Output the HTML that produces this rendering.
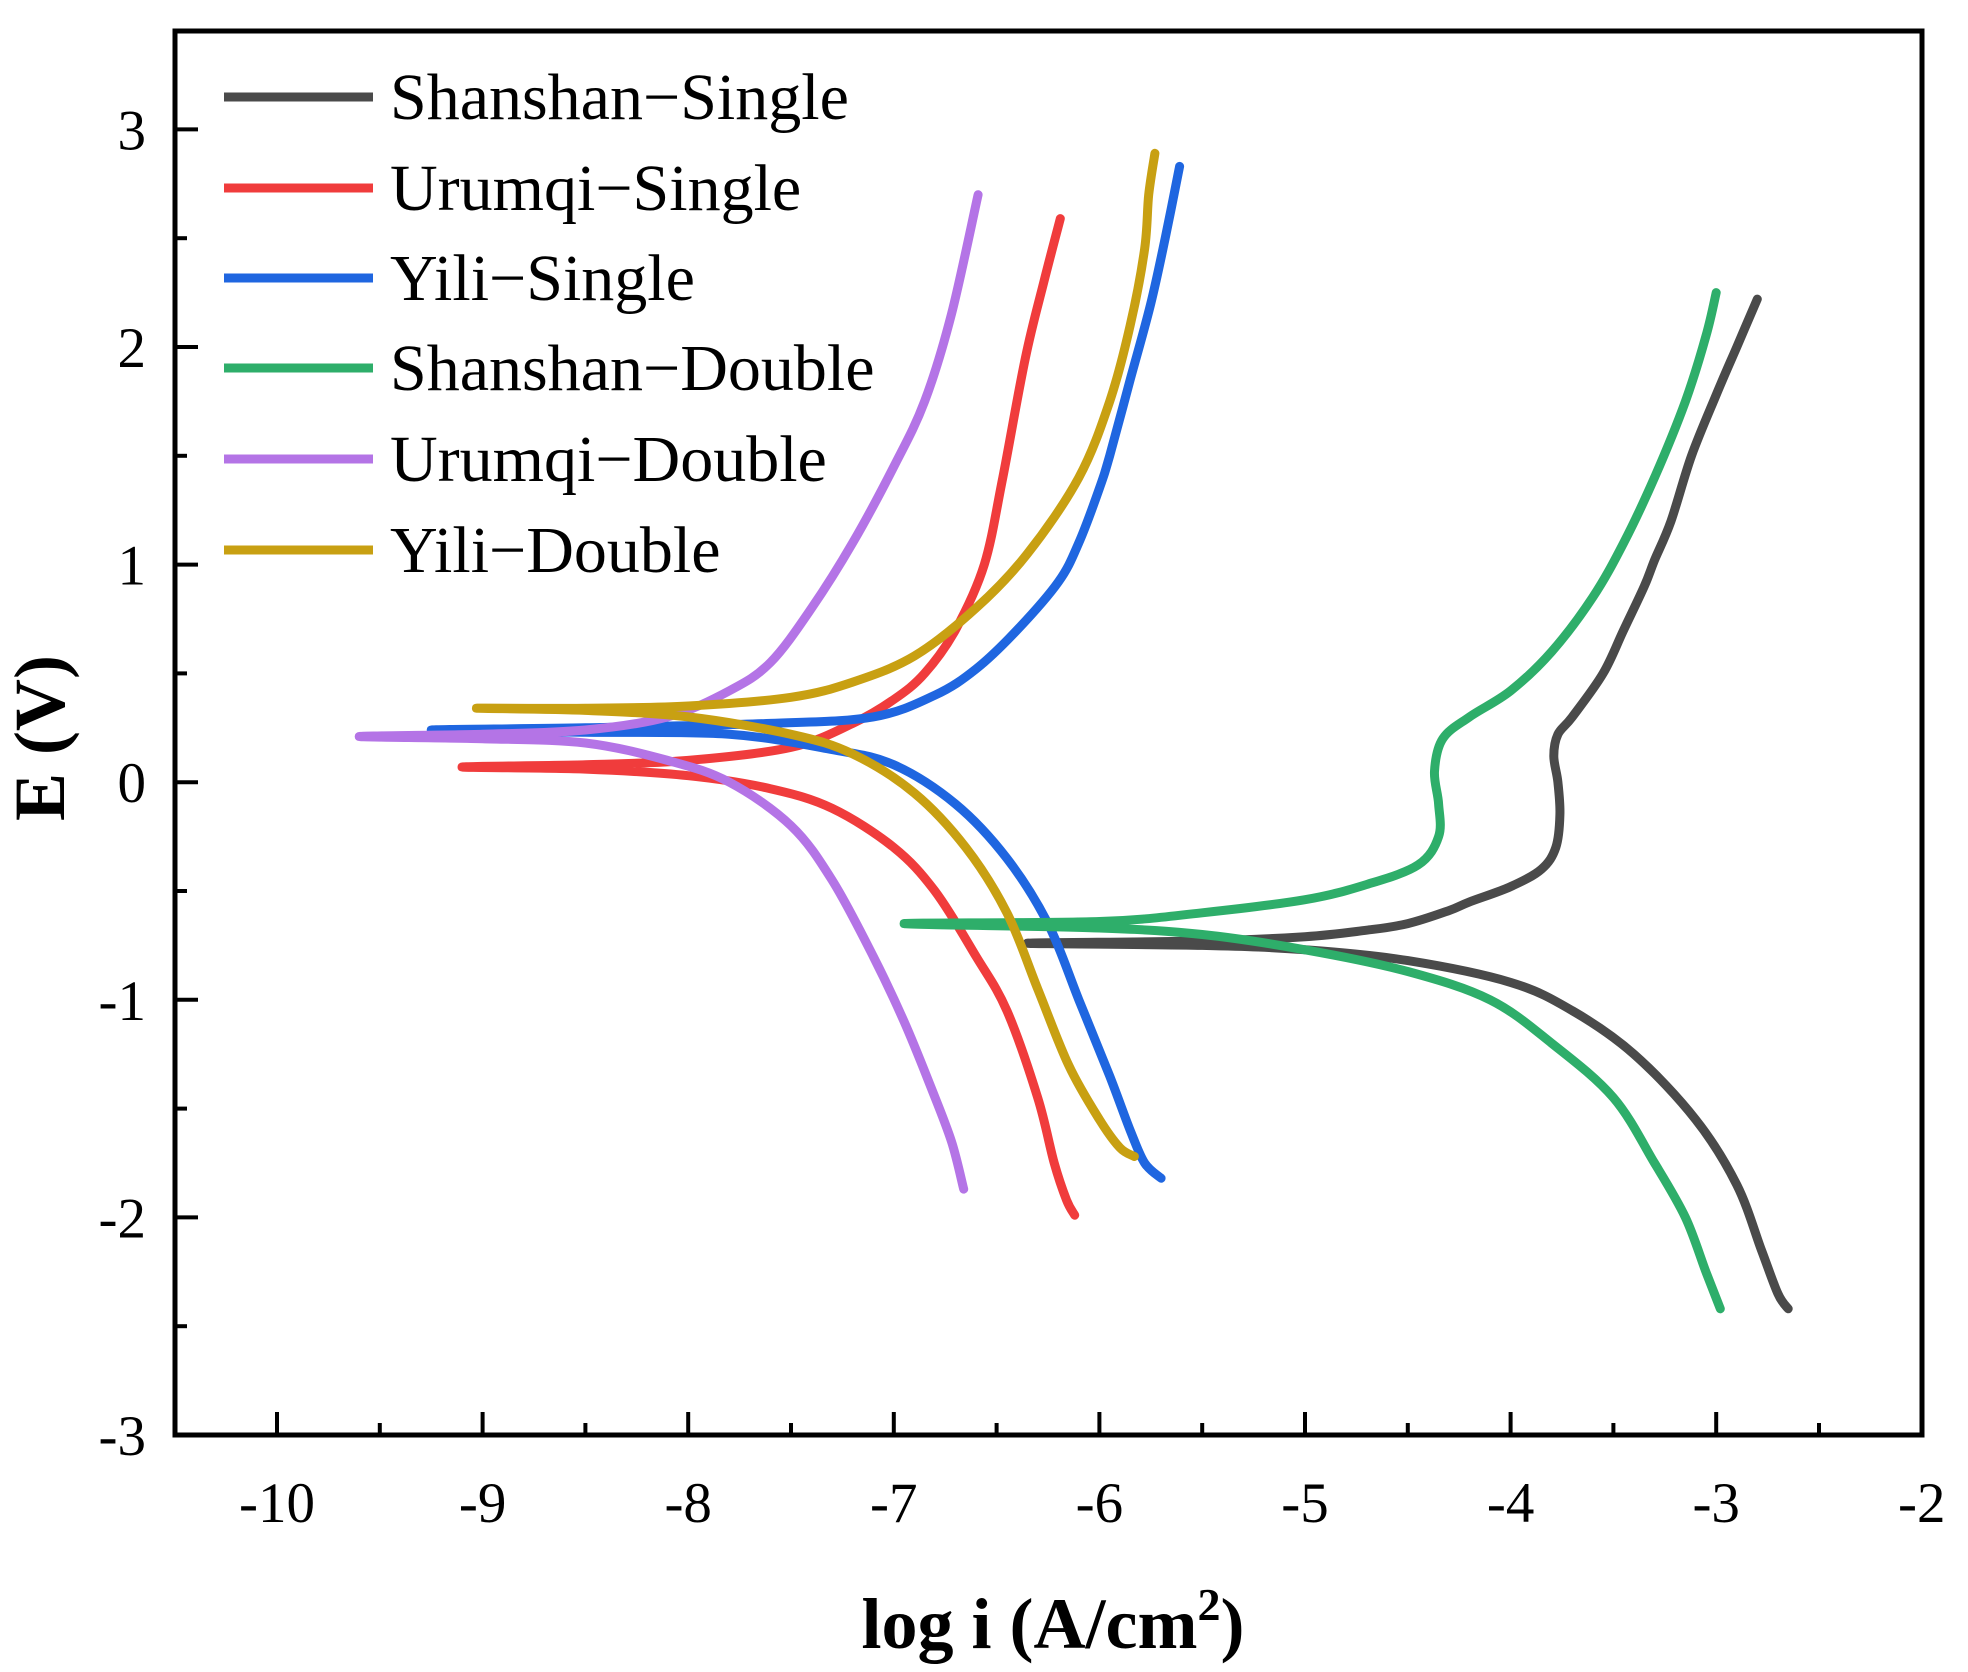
<!DOCTYPE html>
<html><head><meta charset="utf-8"><style>
html,body{margin:0;padding:0;background:#fff;}
svg{display:block;font-family:"Liberation Serif",serif;}
</style></head><body>
<svg id="chart" width="1968" height="1672" viewBox="0 0 1968 1672" xmlns="http://www.w3.org/2000/svg">
<rect x="0" y="0" width="1968" height="1672" fill="#fff"/>
<g id="series"></g>
<rect x="175" y="31" width="1747" height="1404" fill="none" stroke="#000" stroke-width="5"/>
<g id="axes"></g>
<g id="legend"></g>
<text x="1053" y="1648" font-size="72" font-weight="bold" text-anchor="middle">log i (A/cm<tspan dy="-28" font-size="46">2</tspan><tspan dy="28">)</tspan></text>
<text transform="translate(64,738) rotate(-90)" font-size="72" font-weight="bold" text-anchor="middle">E (V)</text>
</svg>
<script>
const xTicks=[-10,-9,-8,-7,-6,-5,-4,-3,-2];
const yTicks=[-3,-2,-1,0,1,2,3];
const seriesNames=["Shanshan−Single","Urumqi−Single","Yili−Single","Shanshan−Double","Urumqi−Double","Yili−Double"];
const seriesColors=["#4a4a4a","#f03c3c","#1f66e0","#2eae6a","#b474e6","#c8a012"];
const shanshanSingleAnodic=[[-6.35,-0.74],[-5.5,-0.73],[-5,-0.71],[-4.7,-0.68],[-4.5,-0.65],[-4.3,-0.59],[-4.2,-0.55],[-4.0,-0.48],[-3.85,-0.4],[-3.78,-0.3],[-3.76,-0.15],[-3.77,0.0],[-3.79,0.12],[-3.77,0.22],[-3.7,0.3],[-3.55,0.5],[-3.45,0.7],[-3.35,0.9],[-3.3,1.02],[-3.22,1.2],[-3.12,1.5],[-3.0,1.78],[-2.9,2.0],[-2.8,2.22]];
const shanshanSingleCathodic=[[-6.35,-0.74],[-5.5,-0.75],[-5,-0.77],[-4.5,-0.82],[-4,-0.92],[-3.7,-1.05],[-3.4,-1.25],[-3.1,-1.55],[-2.9,-1.85],[-2.78,-2.15],[-2.7,-2.35],[-2.65,-2.42]];
const urumqiSingleAnodic=[[-9.1,0.07],[-8.5,0.08],[-8,0.1],[-7.5,0.16],[-7.2,0.27],[-7.0,0.38],[-6.85,0.5],[-6.7,0.7],[-6.56,1.0],[-6.47,1.4],[-6.36,1.95],[-6.27,2.3],[-6.19,2.59]];
const urumqiSingleCathodic=[[-9.1,0.07],[-8.5,0.06],[-8,0.03],[-7.6,-0.03],[-7.3,-0.12],[-7.0,-0.3],[-6.8,-0.5],[-6.6,-0.8],[-6.45,-1.05],[-6.3,-1.45],[-6.22,-1.75],[-6.16,-1.92],[-6.12,-1.99]];
const yiliSingleAnodic=[[-9.25,0.24],[-8.5,0.25],[-7.6,0.27],[-7.1,0.3],[-6.8,0.4],[-6.6,0.52],[-6.4,0.7],[-6.2,0.92],[-6.1,1.1],[-6.0,1.35],[-5.95,1.5],[-5.85,1.85],[-5.75,2.2],[-5.68,2.5],[-5.61,2.83]];
const yiliSingleCathodic=[[-9.25,0.24],[-8.5,0.23],[-7.8,0.22],[-7.3,0.15],[-7.0,0.08],[-6.7,-0.1],[-6.45,-0.35],[-6.25,-0.65],[-6.1,-1.0],[-5.95,-1.35],[-5.85,-1.6],[-5.78,-1.75],[-5.7,-1.82]];
const shanshanDoubleAnodic=[[-6.95,-0.65],[-6,-0.64],[-5.5,-0.6],[-5,-0.54],[-4.7,-0.47],[-4.45,-0.38],[-4.35,-0.25],[-4.35,-0.1],[-4.37,0.05],[-4.33,0.2],[-4.2,0.3],[-4.0,0.42],[-3.8,0.6],[-3.6,0.85],[-3.45,1.1],[-3.3,1.4],[-3.15,1.75],[-3.05,2.05],[-3.0,2.25]];
const shanshanDoubleCathodic=[[-6.95,-0.65],[-6,-0.67],[-5.5,-0.7],[-5,-0.77],[-4.5,-0.87],[-4.1,-1.0],[-3.8,-1.2],[-3.5,-1.45],[-3.3,-1.75],[-3.15,-2.0],[-3.05,-2.25],[-2.98,-2.42]];
const urumqiDoubleAnodic=[[-9.6,0.21],[-9,0.22],[-8.5,0.24],[-8.1,0.3],[-7.8,0.42],[-7.6,0.55],[-7.4,0.8],[-7.2,1.1],[-7.0,1.45],[-6.85,1.75],[-6.72,2.15],[-6.59,2.7]];
const urumqiDoubleCathodic=[[-9.6,0.21],[-9,0.2],[-8.5,0.18],[-8.1,0.1],[-7.8,0.0],[-7.5,-0.2],[-7.3,-0.45],[-7.1,-0.8],[-6.95,-1.1],[-6.82,-1.4],[-6.72,-1.65],[-6.66,-1.87]];
const yiliDoubleAnodic=[[-9.03,0.34],[-8.5,0.34],[-8,0.35],[-7.5,0.39],[-7.2,0.46],[-6.9,0.58],[-6.6,0.8],[-6.35,1.05],[-6.1,1.4],[-5.95,1.75],[-5.85,2.1],[-5.78,2.45],[-5.76,2.7],[-5.73,2.89]];
const yiliDoubleCathodic=[[-9.03,0.34],[-8.5,0.33],[-8,0.3],[-7.5,0.22],[-7.2,0.13],[-6.9,-0.05],[-6.65,-0.3],[-6.45,-0.6],[-6.3,-0.95],[-6.15,-1.3],[-6.0,-1.55],[-5.9,-1.68],[-5.83,-1.72]];

const NS="http://www.w3.org/2000/svg";
function X(v){return 277+(v+10)*205.6;}
function Y(v){return 1435-(v+3)*217.6;}
function mk(tag,attrs,parent){const e=document.createElementNS(NS,tag);for(const k in attrs)e.setAttribute(k,attrs[k]);parent.appendChild(e);return e;}
function smooth(p){
  let d='M'+p[0][0].toFixed(1)+','+p[0][1].toFixed(1);
  for(let i=0;i<p.length-1;i++){
    const p0=p[Math.max(0,i-1)],p1=p[i],p2=p[i+1],p3=p[Math.min(p.length-1,i+2)];
    const c1x=p1[0]+(p2[0]-p0[0])/6,c1y=p1[1]+(p2[1]-p0[1])/6;
    const c2x=p2[0]-(p3[0]-p1[0])/6,c2y=p2[1]-(p3[1]-p1[1])/6;
    d+=' C'+c1x.toFixed(1)+','+c1y.toFixed(1)+' '+c2x.toFixed(1)+','+c2y.toFixed(1)+' '+p2[0].toFixed(1)+','+p2[1].toFixed(1);
  }
  return d;
}

const allSeries=[[shanshanSingleCathodic,shanshanSingleAnodic],[urumqiSingleCathodic,urumqiSingleAnodic],[yiliSingleCathodic,yiliSingleAnodic],[shanshanDoubleCathodic,shanshanDoubleAnodic],[urumqiDoubleCathodic,urumqiDoubleAnodic],[yiliDoubleCathodic,yiliDoubleAnodic]];
const sg=document.getElementById('series');
allSeries.forEach((s,i)=>{
  const pts=s[0].slice().reverse().concat(s[1].slice(1)).map(q=>[X(q[0]),Y(q[1])]);
  const p=mk('path',{d:smooth(pts),fill:'none',stroke:seriesColors[i],'stroke-width':9,'stroke-linejoin':'round','stroke-linecap':'round'},sg);
  
  
});

const ag=document.getElementById('axes');
xTicks.forEach((t,i)=>{
  const x=X(t);
  if(i<xTicks.length-1){
    const l=mk('line',{x1:x,y1:1435,x2:x,y2:1412,stroke:'#000','stroke-width':4},ag);
    
    
    const m=mk('line',{x1:X(t+0.5),y1:1435,x2:X(t+0.5),y2:1423,stroke:'#000','stroke-width':4},ag);
    
    
  }
  const tx=mk('text',{x:x,y:1522,'font-size':57,'text-anchor':'middle'},ag);
  tx.textContent=String(t);
  
  
});
yTicks.forEach((t,i)=>{
  const y=Y(t);
  const l=mk('line',{x1:175,y1:y,x2:198,y2:y,stroke:'#000','stroke-width':4},ag);
  
  
  if(i<yTicks.length-1){
    const m=mk('line',{x1:175,y1:Y(t+0.5),x2:187,y2:Y(t+0.5),stroke:'#000','stroke-width':4},ag);
    
    
  }
  const tx=mk('text',{x:146,y:y+20,'font-size':57,'text-anchor':'end'},ag);
  tx.textContent=String(t);
  
  
});
const lgY=[97,188,278,368,459,550];
const lg=document.getElementById('legend');
seriesNames.forEach((n,i)=>{
  const g=mk('g',{},lg);
  
  
  mk('line',{x1:224,y1:lgY[i],x2:373,y2:lgY[i],stroke:seriesColors[i],'stroke-width':9},g);
  const t=mk('text',{x:390,y:lgY[i]+22,'font-size':66},g);
  t.textContent=n;
});
</script>
</body></html>
